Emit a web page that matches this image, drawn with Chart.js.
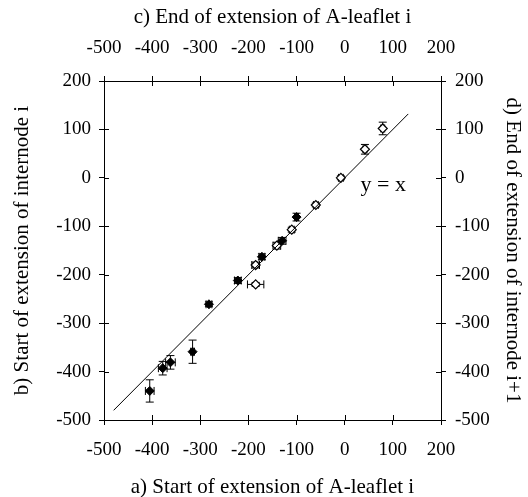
<!DOCTYPE html>
<html>
<head>
<meta charset="utf-8">
<script src="https://cdn.jsdelivr.net/npm/chart.js@4/dist/chart.umd.min.js"></script>
<style>
  body { margin: 0; background: #fff; }
  #wrap { width: 528px; height: 497px; }
</style>
</head>
<body>
<div id="wrap"><canvas id="chart"></canvas></div>
<script>
// filled symbols
const filledX = [-405, -378, -362, -316, -282, -222, -172, -130, -100];
const filledY = [-440, -393, -381, -359, -261, -212, -163, -130, -81];
const filledXErr = [9, 9, 10, 4, 6, 7, 6, 8, 4];
const filledYErr = [23, 14, 14, 24, 5, 6, 6, 7, 8];

// open symbols
const openX = [-185, -185, -141, -110, -60, -8, 42, 79];
const openY = [-180, -220, -140, -107, -56, 0, 59, 102];
const openXErr = [8, 17, 8, 5, 5, 5, 4, 4];
const openYErr = [6, 4, 7, 5, 4, 4, 10, 13];

// y = x reference line
const lineX = [-480, 132];

const axisMin = -500;
const axisMax = 200;
const axisStep = 100;

function toPoints(xs, ys, xe, ye) {
  return xs.map((x, i) => ({ x: x, y: ys[i], xErr: xe ? xe[i] : 0, yErr: ye ? ye[i] : 0 }));
}

const serif = "'Liberation Serif', 'Times New Roman', serif";

const errorBars = {
  id: "errorBars",
  beforeDatasetsDraw(chart) {
    const ctx = chart.ctx;
    const xs = chart.scales.x;
    const ys = chart.scales.y;
    const cap = 4;
    ctx.save();
    ctx.strokeStyle = "#000";
    ctx.lineWidth = 1;
    chart.data.datasets.forEach((ds) => {
      if (!ds.errorBars) return;
      ds.data.forEach((p) => {
        const px = xs.getPixelForValue(p.x);
        const py = ys.getPixelForValue(p.y);
        if (p.yErr) {
          const y1 = ys.getPixelForValue(p.y + p.yErr);
          const y2 = ys.getPixelForValue(p.y - p.yErr);
          ctx.beginPath();
          ctx.moveTo(px, y1); ctx.lineTo(px, y2);
          ctx.moveTo(px - cap, y1); ctx.lineTo(px + cap, y1);
          ctx.moveTo(px - cap, y2); ctx.lineTo(px + cap, y2);
          ctx.stroke();
        }
        if (p.xErr) {
          const x1 = xs.getPixelForValue(p.x - p.xErr);
          const x2 = xs.getPixelForValue(p.x + p.xErr);
          ctx.beginPath();
          ctx.moveTo(x1, py); ctx.lineTo(x2, py);
          ctx.moveTo(x1, py - cap); ctx.lineTo(x1, py + cap);
          ctx.moveTo(x2, py - cap); ctx.lineTo(x2, py + cap);
          ctx.stroke();
        }
      });
    });
    ctx.restore();
  },
};

// ticks crossing the frame: chart.js draws the outer half, this draws the inner half
const innerTicks = {
  id: "innerTicks",
  afterDraw(chart) {
    const ctx = chart.ctx;
    const a = chart.chartArea;
    const len = 5;
    ctx.save();
    ctx.strokeStyle = "#000";
    ctx.lineWidth = 1;
    ctx.beginPath();
    ["x", "x2"].forEach((id) => {
      const s = chart.scales[id];
      s.ticks.forEach((t) => {
        const px = Math.round(s.getPixelForValue(t.value)) + 0.5;
        if (id === "x") { ctx.moveTo(px, a.bottom); ctx.lineTo(px, a.bottom - len); }
        else { ctx.moveTo(px, a.top); ctx.lineTo(px, a.top + len); }
      });
    });
    ["y", "y2"].forEach((id) => {
      const s = chart.scales[id];
      s.ticks.forEach((t) => {
        const py = Math.round(s.getPixelForValue(t.value)) + 0.5;
        if (id === "y") { ctx.moveTo(a.left, py); ctx.lineTo(a.left + len, py); }
        else { ctx.moveTo(a.right, py); ctx.lineTo(a.right - len, py); }
      });
    });
    ctx.stroke();

    // "y=x" label
    ctx.fillStyle = "#000";
    ctx.font = "22px " + serif;
    ctx.textAlign = "center";
    ctx.textBaseline = "middle";
    ctx.fillText("y = x", chart.scales.x.getPixelForValue(80), chart.scales.y.getPixelForValue(-15));
    ctx.restore();
  },
};

function axis(position, titleText, size, tickPad, titlePad) {
  return {
    type: "linear",
    position: position,
    min: axisMin,
    max: axisMax,
    ticks: {
      stepSize: axisStep,
      color: "#000",
      font: { family: serif, size: 19 },
      padding: tickPad,
      maxRotation: 0,
    },
    grid: { drawOnChartArea: false, drawTicks: true, tickLength: 5, color: "#000" },
    border: { display: true, color: "#000", width: 1 },
    title: {
      display: true,
      text: titleText,
      color: "#000",
      font: { family: serif, size: 21, lineHeight: 1 },
      padding: titlePad,
    },
    afterFit(scale) {
      if (position === "left" || position === "right") scale.width = size;
      else scale.height = size;
    },
  };
}

new Chart(document.getElementById("chart"), {
  type: "scatter",
  data: {
    datasets: [
      {
        label: "y=x",
        data: lineX.map((v) => ({ x: v, y: v })),
        showLine: true,
        borderColor: "#000",
        borderWidth: 1,
        pointRadius: 0,
      },
      {
        label: "filled",
        data: toPoints(filledX, filledY, filledXErr, filledYErr),
        errorBars: true,
        pointStyle: "rectRot",
        pointRadius: 4.5,
        backgroundColor: "#000",
        borderColor: "#000",
        borderWidth: 1,
      },
      {
        label: "open",
        data: toPoints(openX, openY, openXErr, openYErr),
        errorBars: true,
        pointStyle: "rectRot",
        pointRadius: 4.5,
        backgroundColor: "#fff",
        borderColor: "#000",
        borderWidth: 1.2,
      },
    ],
  },
  options: {
    responsive: true,
    maintainAspectRatio: false,
    animation: false,
    layout: { padding: 0 },
    plugins: { legend: { display: false }, tooltip: { enabled: false } },
    scales: {
      x: axis("bottom", "a) Start of extension of A-leaflet i", 77, 14, { top: 0, bottom: -1 }),
      x2: axis("top", "c) End of extension of A-leaflet i", 81, 17, { top: 7, bottom: 0 }),
      y: axis("left", "b) Start of extension of internode i", 104, 8, { top: 12, bottom: 0 }),
      y2: axis("right", "d) End of extension of internode i+1", 87, 9, { top: 5, bottom: 0 }),
    },
  },
  plugins: [errorBars, innerTicks],
});
</script>
</body>
</html>
